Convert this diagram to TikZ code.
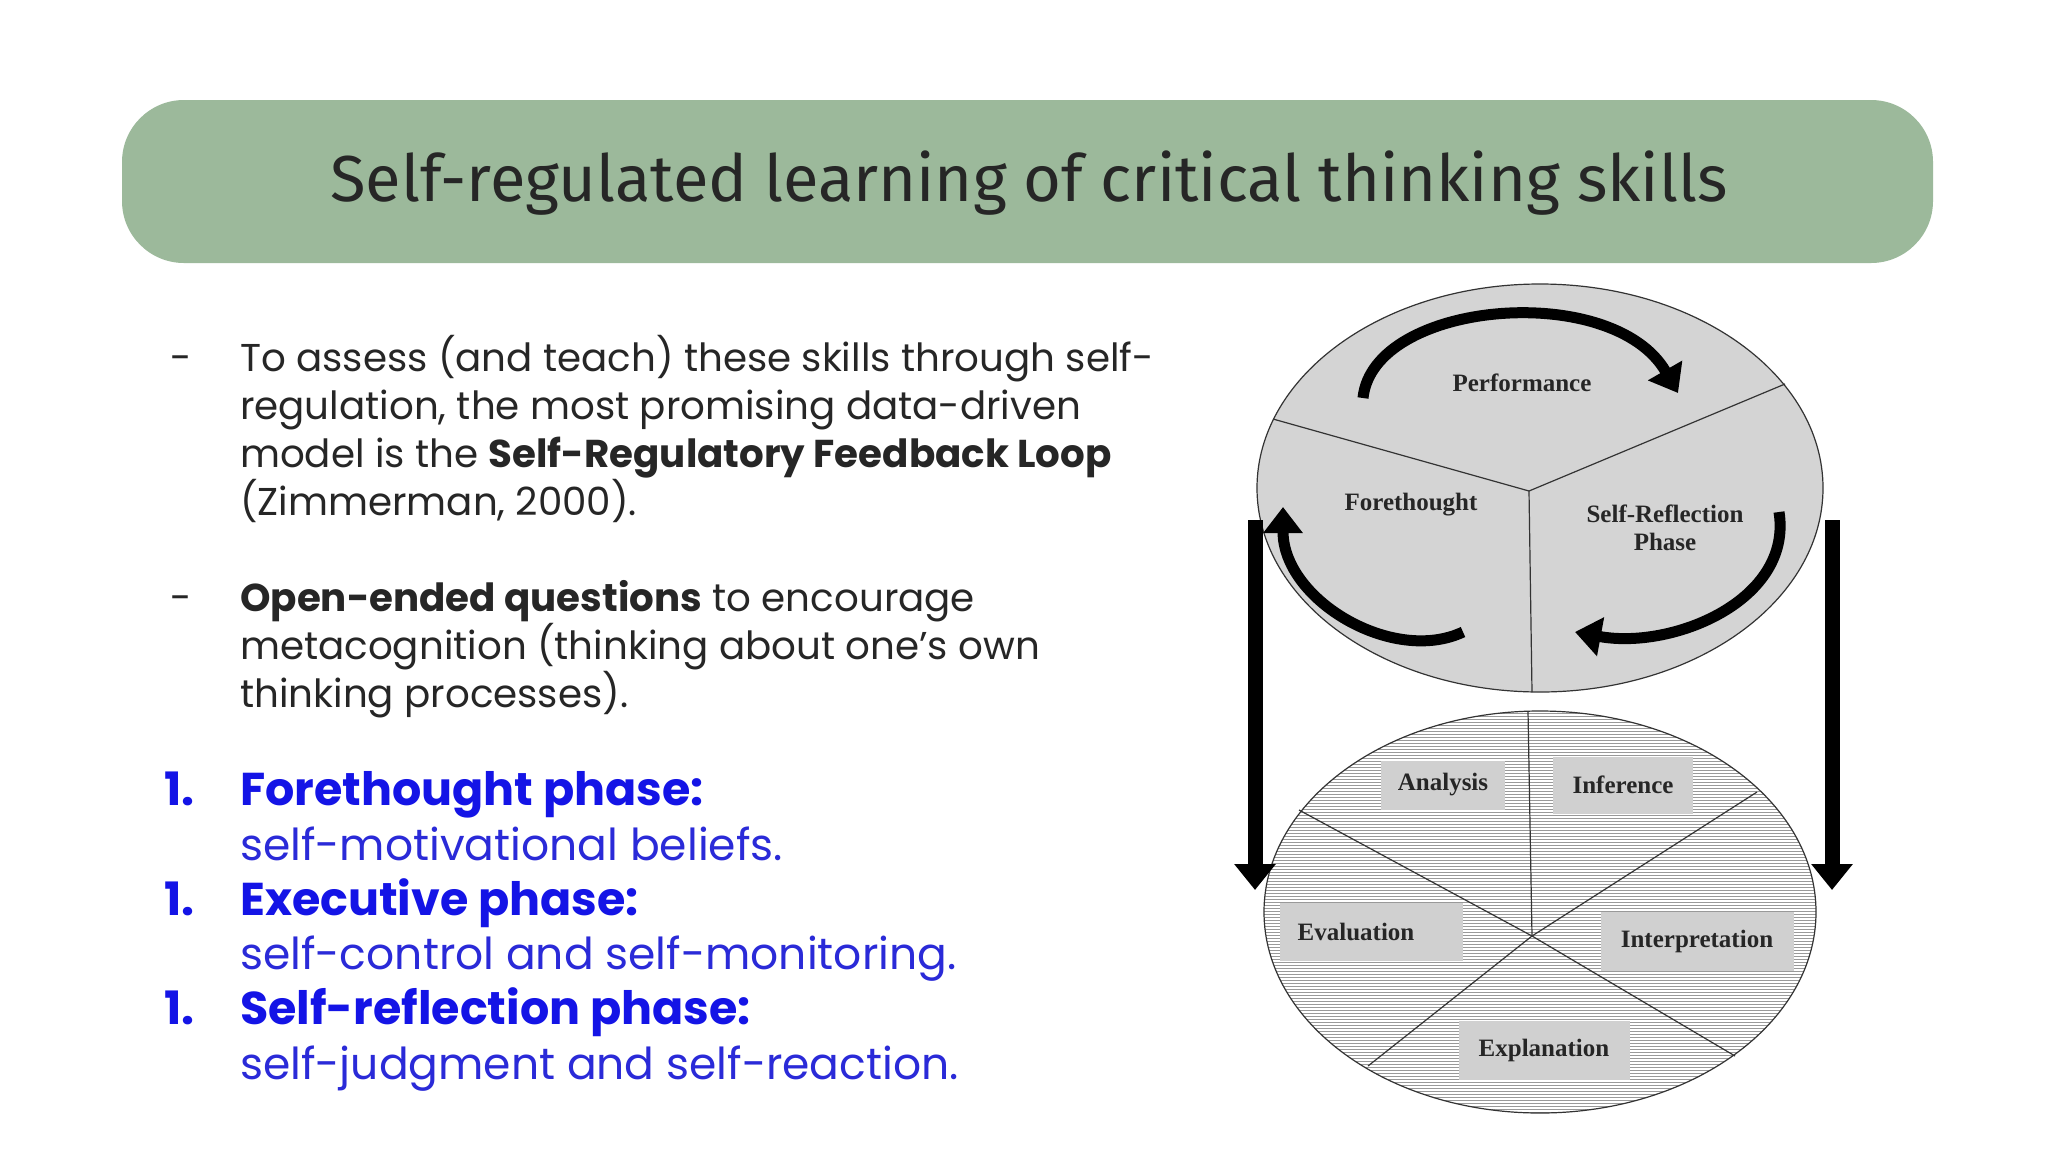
\documentclass[tikz,border=0pt]{standalone}
\usepackage{fontspec}
\setmainfont{Poppins}
\newfontfamily\titlefont{Fira Sans}
\newfontfamily\serifb{Liberation Serif}
\usetikzlibrary{arrows.meta,patterns}
\definecolor{band}{HTML}{9CB99B}
\definecolor{bblue}{HTML}{1414E6}
\definecolor{lblue}{HTML}{2A2AD8}
\definecolor{pie}{HTML}{D4D4D4}
\definecolor{lab}{HTML}{D0D0D0}
\begin{document}
\begin{tikzpicture}[x=1pt,y=-1pt,
  body/.style={anchor=base west,inner sep=0pt,font=\fontsize{38.8}{46}\selectfont,text=black!85},
  num/.style={anchor=base west,inner sep=0pt,font=\fontsize{46}{52}\selectfont\bfseries,text=bblue},
  sub/.style={anchor=base west,inner sep=0pt,font=\fontsize{44}{52}\selectfont,text=lblue},
  dlab/.style={font=\serifb\bfseries\fontsize{25}{28}\selectfont,align=center,text=black!85},
  lbox/.style={fill=lab,inner sep=0pt,font=\serifb\bfseries\fontsize{25}{28}\selectfont,text=black!85},
  curv/.style={line width=11pt,-{Triangle[length=26pt,width=38pt]}},
  darr/.style={line width=15pt,-{Triangle[length=26pt,width=40pt]}}]
\useasboundingbox (0,0) rectangle (2048,1152);
\fill[white] (0,0) rectangle (2048,1152);
\node[fill=band,rounded corners=62pt,minimum width=1811pt,minimum height=163pt,inner sep=0pt] (title) at (1027.5,181.5) {};
\node[font=\titlefont\fontsize{65}{70}\selectfont,text=black!85] (tt) at (1029,183) {Self-regulated learning of critical thinking skills};
% bullets
\node[body] (d1) at (170,371) {-};
\node[body] (l1) at (240,371) {To assess (and teach) these skills through self-};
\node[body] (l2) at (240,419) {regulation, the most promising data-driven};
\node[body] (l3) at (240,467) {model is the \textbf{Self-Regulatory Feedback Loop}};
\node[body] (l4) at (240,515) {(Zimmerman, 2000).};
\node[body] (d2) at (170,611) {-};
\node[body] (m1) at (240,611) {\textbf{Open-ended questions} to encourage};
\node[body] (m2) at (240,659) {metacognition (thinking about one’s own};
\node[body] (m3) at (240,707) {thinking processes).};
\node[num] (n1) at (164,805) {1.};
\node[num] (p1) at (240,805) {Forethought phase:};
\node[sub] (s1) at (240,860) {self-motivational beliefs.};
\node[num] (n2) at (164,915) {1.};
\node[num] (p2) at (240,915) {Executive phase:};
\node[sub] (s2) at (240,969) {self-control and self-monitoring.};
\node[num] (n3) at (164,1024) {1.};
\node[num] (p3) at (240,1024) {Self-reflection phase:};
\node[sub] (s3) at (240,1079) {self-judgment and self-reaction.};
% lower ellipse
\begin{scope}[xshift=-7pt]
\coordinate (lc) at (1539,936);
\fill[white] (1547,912) ellipse [x radius=276, y radius=201];
\fill[pattern=horizontal lines,pattern color=black!40] (1547,912) ellipse [x radius=276, y radius=201];
\draw[line width=1.2pt,black!80] (1547,912) ellipse [x radius=276, y radius=201];
\foreach \p in {(1535,711),(1306,810),(1764,792),(1375,1066),(1742,1056)} \draw[line width=1.2pt,black!80] (lc) -- \p;
\node[lbox,minimum width=124pt,minimum height=49pt] (ana) at (1450,785) {Analysis};
\node[lbox,minimum width=140pt,minimum height=57pt] (inf) at (1630,785) {Inference};
\node[lbox,minimum width=183pt,minimum height=58pt] (eva) at (1378,932) {\hspace*{-30pt}Evaluation};
\node[lbox,minimum width=193pt,minimum height=59pt] (int) at (1704,941) {Interpretation};
\node[lbox,minimum width=171pt,minimum height=59pt] (exp) at (1551,1050) {Explanation};
% upper ellipse
\coordinate (uc) at (1536,491);
\fill[pie] (1547,488) ellipse [x radius=283, y radius=204];
\draw[line width=1.2pt,black!80] (1547,488) ellipse [x radius=283, y radius=204];
\draw[line width=1.2pt,black!80] (uc) -- (1280,419);
\draw[line width=1.2pt,black!80] (uc) -- (1792,384);
\draw[line width=1.2pt,black!80] (uc) -- (1539,692);
\node[dlab] (perf) at (1529,383) {Performance};
\node[dlab] (fore) at (1418,505) {Forethought};
\node[dlab,align=center] (srp) at (1672,528) {Self-Reflection\\Phase};
% curved arrows
\draw[curv] (1370,398) .. controls (1380,300) and (1620,280) .. (1685,393);
\draw[curv] (1470,632) .. controls (1400,665) and (1290,600) .. (1290,507);
\draw[curv] (1786,512) .. controls (1800,600) and (1680,650) .. (1582,632);
% down arrows
\coordinate (la) at (1262,520);
\coordinate (lb) at (1262,890);
\coordinate (ra) at (1839,520);
\coordinate (rb) at (1839,890);
\draw[darr] (la) -- (lb);
\draw[darr] (ra) -- (rb);
\end{scope}
\end{tikzpicture}
\end{document}
